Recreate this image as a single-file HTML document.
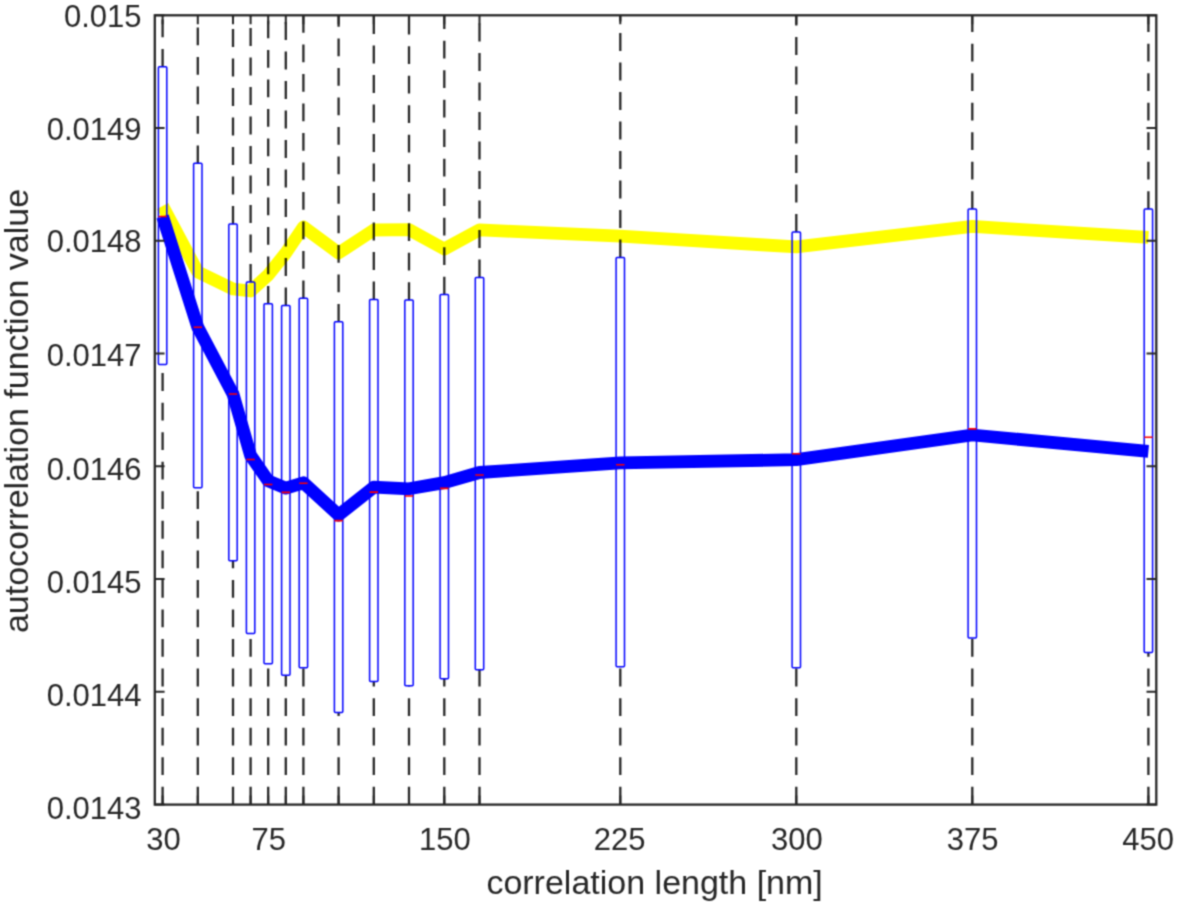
<!DOCTYPE html>
<html><head><meta charset="utf-8"><style>
html,body{margin:0;padding:0;background:#fff;overflow:hidden;}
svg{display:block;}
text{font-family:"Liberation Sans",sans-serif;fill:#262626;}
</style></head><body>
<div id="w"><svg width="1177" height="906" viewBox="0 0 1177 906">

<defs><filter id="bl" x="0" y="0" width="1" height="1" color-interpolation-filters="sRGB"><feConvolveMatrix order="3" kernelMatrix="0.04387 0.12171 0.04387 0.12171 0.33767 0.12171 0.04387 0.12171 0.04387" edgeMode="duplicate"/></filter></defs><g filter="url(#bl)"><rect x="0" y="0" width="1177" height="906" fill="#fff"/>
<defs><clipPath id="ax"><rect x="154.8" y="15.3" width="1001.5" height="789.3"/></clipPath></defs>
<g clip-path="url(#ax)">
<polyline points="162.6,206.0 197.8,272.0 233.0,289.0 250.6,291.0 268.2,275.0 285.8,253.0 303.4,227.0 338.6,253.0 373.8,230.0 409.0,229.7 444.3,249.0 479.5,229.9 620.3,236.1 796.3,246.9 972.3,226.4 1148.4,237.4" fill="none" stroke="#ffff00" stroke-width="12.8" stroke-linejoin="round" stroke-linecap="butt"/>
<polyline points="162.6,216.5 197.8,327.2 233.0,394.0 250.6,455.5 268.2,480.8 285.8,488.1 303.4,482.8 338.6,515.0 373.8,487.2 409.0,488.8 444.3,482.6 479.5,472.5 620.3,462.9 796.3,459.7 972.3,435.0 1148.4,451.3" fill="none" stroke="#0000ff" stroke-width="12.8" stroke-linejoin="round" stroke-linecap="butt"/>
<path d="M162.6,66.8V13.3" stroke="#000" stroke-opacity="0.85" stroke-width="2.3" stroke-dasharray="17.8 11.7" fill="none"/>
<path d="M162.6,804.6V364.5" stroke="#000" stroke-opacity="0.85" stroke-width="2.3" stroke-dasharray="17.8 11.75" fill="none"/>
<path d="M197.8,163.2V13.3" stroke="#000" stroke-opacity="0.85" stroke-width="2.3" stroke-dasharray="17.8 11.7" fill="none"/>
<path d="M197.8,804.6V487.8" stroke="#000" stroke-opacity="0.85" stroke-width="2.3" stroke-dasharray="17.8 11.75" fill="none"/>
<path d="M233.0,223.9V13.3" stroke="#000" stroke-opacity="0.85" stroke-width="2.3" stroke-dasharray="17.8 11.7" fill="none"/>
<path d="M233.0,804.6V560.8" stroke="#000" stroke-opacity="0.85" stroke-width="2.3" stroke-dasharray="17.8 11.75" fill="none"/>
<path d="M250.6,281.9V13.3" stroke="#000" stroke-opacity="0.85" stroke-width="2.3" stroke-dasharray="17.8 11.7" fill="none"/>
<path d="M250.6,804.6V633.6" stroke="#000" stroke-opacity="0.85" stroke-width="2.3" stroke-dasharray="17.8 11.75" fill="none"/>
<path d="M268.2,303.8V13.3" stroke="#000" stroke-opacity="0.85" stroke-width="2.3" stroke-dasharray="17.8 11.7" fill="none"/>
<path d="M268.2,804.6V663.7" stroke="#000" stroke-opacity="0.85" stroke-width="2.3" stroke-dasharray="17.8 11.75" fill="none"/>
<path d="M285.8,305.4V13.3" stroke="#000" stroke-opacity="0.85" stroke-width="2.3" stroke-dasharray="17.8 11.7" fill="none"/>
<path d="M285.8,804.6V675.3" stroke="#000" stroke-opacity="0.85" stroke-width="2.3" stroke-dasharray="17.8 11.75" fill="none"/>
<path d="M303.4,298.2V13.3" stroke="#000" stroke-opacity="0.85" stroke-width="2.3" stroke-dasharray="17.8 11.7" fill="none"/>
<path d="M303.4,804.6V667.8" stroke="#000" stroke-opacity="0.85" stroke-width="2.3" stroke-dasharray="17.8 11.75" fill="none"/>
<path d="M338.6,321.7V13.3" stroke="#000" stroke-opacity="0.85" stroke-width="2.3" stroke-dasharray="17.8 11.7" fill="none"/>
<path d="M338.6,804.6V712.4" stroke="#000" stroke-opacity="0.85" stroke-width="2.3" stroke-dasharray="17.8 11.75" fill="none"/>
<path d="M373.8,299.4V13.3" stroke="#000" stroke-opacity="0.85" stroke-width="2.3" stroke-dasharray="17.8 11.7" fill="none"/>
<path d="M373.8,804.6V681.6" stroke="#000" stroke-opacity="0.85" stroke-width="2.3" stroke-dasharray="17.8 11.75" fill="none"/>
<path d="M409.0,300.0V13.3" stroke="#000" stroke-opacity="0.85" stroke-width="2.3" stroke-dasharray="17.8 11.7" fill="none"/>
<path d="M409.0,804.6V685.8" stroke="#000" stroke-opacity="0.85" stroke-width="2.3" stroke-dasharray="17.8 11.75" fill="none"/>
<path d="M444.3,294.6V13.3" stroke="#000" stroke-opacity="0.85" stroke-width="2.3" stroke-dasharray="17.8 11.7" fill="none"/>
<path d="M444.3,804.6V678.7" stroke="#000" stroke-opacity="0.85" stroke-width="2.3" stroke-dasharray="17.8 11.75" fill="none"/>
<path d="M479.5,277.4V13.3" stroke="#000" stroke-opacity="0.85" stroke-width="2.3" stroke-dasharray="17.8 11.7" fill="none"/>
<path d="M479.5,804.6V669.7" stroke="#000" stroke-opacity="0.85" stroke-width="2.3" stroke-dasharray="17.8 11.75" fill="none"/>
<path d="M620.3,257.4V13.3" stroke="#000" stroke-opacity="0.85" stroke-width="2.3" stroke-dasharray="17.8 11.7" fill="none"/>
<path d="M620.3,804.6V666.8" stroke="#000" stroke-opacity="0.85" stroke-width="2.3" stroke-dasharray="17.8 11.75" fill="none"/>
<path d="M796.3,231.9V13.3" stroke="#000" stroke-opacity="0.85" stroke-width="2.3" stroke-dasharray="17.8 11.7" fill="none"/>
<path d="M796.3,804.6V667.7" stroke="#000" stroke-opacity="0.85" stroke-width="2.3" stroke-dasharray="17.8 11.75" fill="none"/>
<path d="M972.3,209.1V13.3" stroke="#000" stroke-opacity="0.85" stroke-width="2.3" stroke-dasharray="17.8 11.7" fill="none"/>
<path d="M972.3,804.6V638.0" stroke="#000" stroke-opacity="0.85" stroke-width="2.3" stroke-dasharray="17.8 11.75" fill="none"/>
<path d="M1148.4,209.1V13.3" stroke="#000" stroke-opacity="0.85" stroke-width="2.3" stroke-dasharray="17.8 11.7" fill="none"/>
<path d="M1148.4,804.6V652.5" stroke="#000" stroke-opacity="0.85" stroke-width="2.3" stroke-dasharray="17.8 11.75" fill="none"/>
<rect x="158.4" y="66.8" width="8.4" height="297.7" fill="none" stroke="#0000ff" stroke-width="1.5" rx="1"/>
<rect x="193.6" y="163.2" width="8.4" height="324.6" fill="none" stroke="#0000ff" stroke-width="1.5" rx="1"/>
<rect x="228.8" y="223.9" width="8.4" height="336.9" fill="none" stroke="#0000ff" stroke-width="1.5" rx="1"/>
<rect x="246.4" y="281.9" width="8.4" height="351.7" fill="none" stroke="#0000ff" stroke-width="1.5" rx="1"/>
<rect x="264.0" y="303.8" width="8.4" height="359.9" fill="none" stroke="#0000ff" stroke-width="1.5" rx="1"/>
<rect x="281.6" y="305.4" width="8.4" height="369.9" fill="none" stroke="#0000ff" stroke-width="1.5" rx="1"/>
<rect x="299.2" y="298.2" width="8.4" height="369.6" fill="none" stroke="#0000ff" stroke-width="1.5" rx="1"/>
<rect x="334.4" y="321.7" width="8.4" height="390.7" fill="none" stroke="#0000ff" stroke-width="1.5" rx="1"/>
<rect x="369.6" y="299.4" width="8.4" height="382.2" fill="none" stroke="#0000ff" stroke-width="1.5" rx="1"/>
<rect x="404.8" y="300.0" width="8.4" height="385.8" fill="none" stroke="#0000ff" stroke-width="1.5" rx="1"/>
<rect x="440.1" y="294.6" width="8.4" height="384.1" fill="none" stroke="#0000ff" stroke-width="1.5" rx="1"/>
<rect x="475.3" y="277.4" width="8.4" height="392.3" fill="none" stroke="#0000ff" stroke-width="1.5" rx="1"/>
<rect x="616.1" y="257.4" width="8.4" height="409.4" fill="none" stroke="#0000ff" stroke-width="1.5" rx="1"/>
<rect x="792.1" y="231.9" width="8.4" height="435.8" fill="none" stroke="#0000ff" stroke-width="1.5" rx="1"/>
<rect x="968.1" y="209.1" width="8.4" height="428.9" fill="none" stroke="#0000ff" stroke-width="1.5" rx="1"/>
<rect x="1144.2" y="209.1" width="8.4" height="443.4" fill="none" stroke="#0000ff" stroke-width="1.5" rx="1"/>
<path d="M158.4,216.5H166.8" stroke="#ff0000" stroke-width="1.6"/>
<path d="M193.6,327.2H202.0" stroke="#ff0000" stroke-width="1.6"/>
<path d="M228.8,394.0H237.2" stroke="#ff0000" stroke-width="1.6"/>
<path d="M246.4,459.5H254.8" stroke="#ff0000" stroke-width="1.6"/>
<path d="M264.0,484.5H272.4" stroke="#ff0000" stroke-width="1.6"/>
<path d="M281.6,492.4H290.0" stroke="#ff0000" stroke-width="1.6"/>
<path d="M299.2,483.3H307.6" stroke="#ff0000" stroke-width="1.6"/>
<path d="M334.4,520.6H342.8" stroke="#ff0000" stroke-width="1.6"/>
<path d="M369.6,492.1H378.0" stroke="#ff0000" stroke-width="1.6"/>
<path d="M404.8,496.0H413.2" stroke="#ff0000" stroke-width="1.6"/>
<path d="M440.1,488.4H448.5" stroke="#ff0000" stroke-width="1.6"/>
<path d="M475.3,475.0H483.7" stroke="#ff0000" stroke-width="1.6"/>
<path d="M616.1,464.8H624.5" stroke="#ff0000" stroke-width="1.6"/>
<path d="M792.1,453.7H800.5" stroke="#ff0000" stroke-width="1.6"/>
<path d="M968.1,428.9H976.5" stroke="#ff0000" stroke-width="1.6"/>
<path d="M1144.2,437.2H1152.6" stroke="#ff0000" stroke-width="1.6"/>
</g>
<rect x="154.8" y="15.3" width="1001.5" height="789.3" fill="none" stroke="#262626" stroke-width="2.3"/>
<path d="M154.8,804.6H164.6M1156.3,804.6H1146.5" stroke="#262626" stroke-width="2.0"/>
<path d="M154.8,691.8H164.6M1156.3,691.8H1146.5" stroke="#262626" stroke-width="2.0"/>
<path d="M154.8,579.1H164.6M1156.3,579.1H1146.5" stroke="#262626" stroke-width="2.0"/>
<path d="M154.8,466.3H164.6M1156.3,466.3H1146.5" stroke="#262626" stroke-width="2.0"/>
<path d="M154.8,353.6H164.6M1156.3,353.6H1146.5" stroke="#262626" stroke-width="2.0"/>
<path d="M154.8,240.8H164.6M1156.3,240.8H1146.5" stroke="#262626" stroke-width="2.0"/>
<path d="M154.8,128.1H164.6M1156.3,128.1H1146.5" stroke="#262626" stroke-width="2.0"/>
<path d="M154.8,15.3H164.6M1156.3,15.3H1146.5" stroke="#262626" stroke-width="2.0"/>
<path d="M162.6,804.6V795.6M162.6,15.3V24.3" stroke="#262626" stroke-width="2.0"/>
<path d="M197.8,804.6V795.6M197.8,15.3V24.3" stroke="#262626" stroke-width="2.0"/>
<path d="M233.0,804.6V795.6M233.0,15.3V24.3" stroke="#262626" stroke-width="2.0"/>
<path d="M250.6,804.6V795.6M250.6,15.3V24.3" stroke="#262626" stroke-width="2.0"/>
<path d="M268.2,804.6V795.6M268.2,15.3V24.3" stroke="#262626" stroke-width="2.0"/>
<path d="M285.8,804.6V795.6M285.8,15.3V24.3" stroke="#262626" stroke-width="2.0"/>
<path d="M303.4,804.6V795.6M303.4,15.3V24.3" stroke="#262626" stroke-width="2.0"/>
<path d="M338.6,804.6V795.6M338.6,15.3V24.3" stroke="#262626" stroke-width="2.0"/>
<path d="M373.8,804.6V795.6M373.8,15.3V24.3" stroke="#262626" stroke-width="2.0"/>
<path d="M409.0,804.6V795.6M409.0,15.3V24.3" stroke="#262626" stroke-width="2.0"/>
<path d="M444.3,804.6V795.6M444.3,15.3V24.3" stroke="#262626" stroke-width="2.0"/>
<path d="M479.5,804.6V795.6M479.5,15.3V24.3" stroke="#262626" stroke-width="2.0"/>
<path d="M620.3,804.6V795.6M620.3,15.3V24.3" stroke="#262626" stroke-width="2.0"/>
<path d="M796.3,804.6V795.6M796.3,15.3V24.3" stroke="#262626" stroke-width="2.0"/>
<path d="M972.3,804.6V795.6M972.3,15.3V24.3" stroke="#262626" stroke-width="2.0"/>
<path d="M1148.4,804.6V795.6M1148.4,15.3V24.3" stroke="#262626" stroke-width="2.0"/>
<text x="141.5" y="818.6" font-size="31" text-anchor="end">0.0143</text>
<text x="141.5" y="705.6" font-size="31" text-anchor="end">0.0144</text>
<text x="141.5" y="592.9" font-size="31" text-anchor="end">0.0145</text>
<text x="141.5" y="479.9" font-size="31" text-anchor="end">0.0146</text>
<text x="141.5" y="365.5" font-size="31" text-anchor="end">0.0147</text>
<text x="141.5" y="252.4" font-size="31" text-anchor="end">0.0148</text>
<text x="141.5" y="140.0" font-size="31" text-anchor="end">0.0149</text>
<text x="141.5" y="26.9" font-size="31" text-anchor="end">0.015</text>
<text x="163.4" y="849.7" font-size="31" text-anchor="middle">30</text>
<text x="268.8" y="849.7" font-size="31" text-anchor="middle">75</text>
<text x="444.9" y="849.7" font-size="31" text-anchor="middle">150</text>
<text x="619.6" y="849.7" font-size="31" text-anchor="middle">225</text>
<text x="796.8" y="849.7" font-size="31" text-anchor="middle">300</text>
<text x="972.6" y="849.7" font-size="31" text-anchor="middle">375</text>
<text x="1148.1" y="849.7" font-size="31" text-anchor="middle">450</text>
<text x="654.6" y="893.6" font-size="34" text-anchor="middle">correlation length [nm]</text>
<text transform="translate(28.3,411) rotate(-90)" x="0" y="0" font-size="34" text-anchor="middle">autocorrelation function value</text>
</g></svg></div>
</body></html>
